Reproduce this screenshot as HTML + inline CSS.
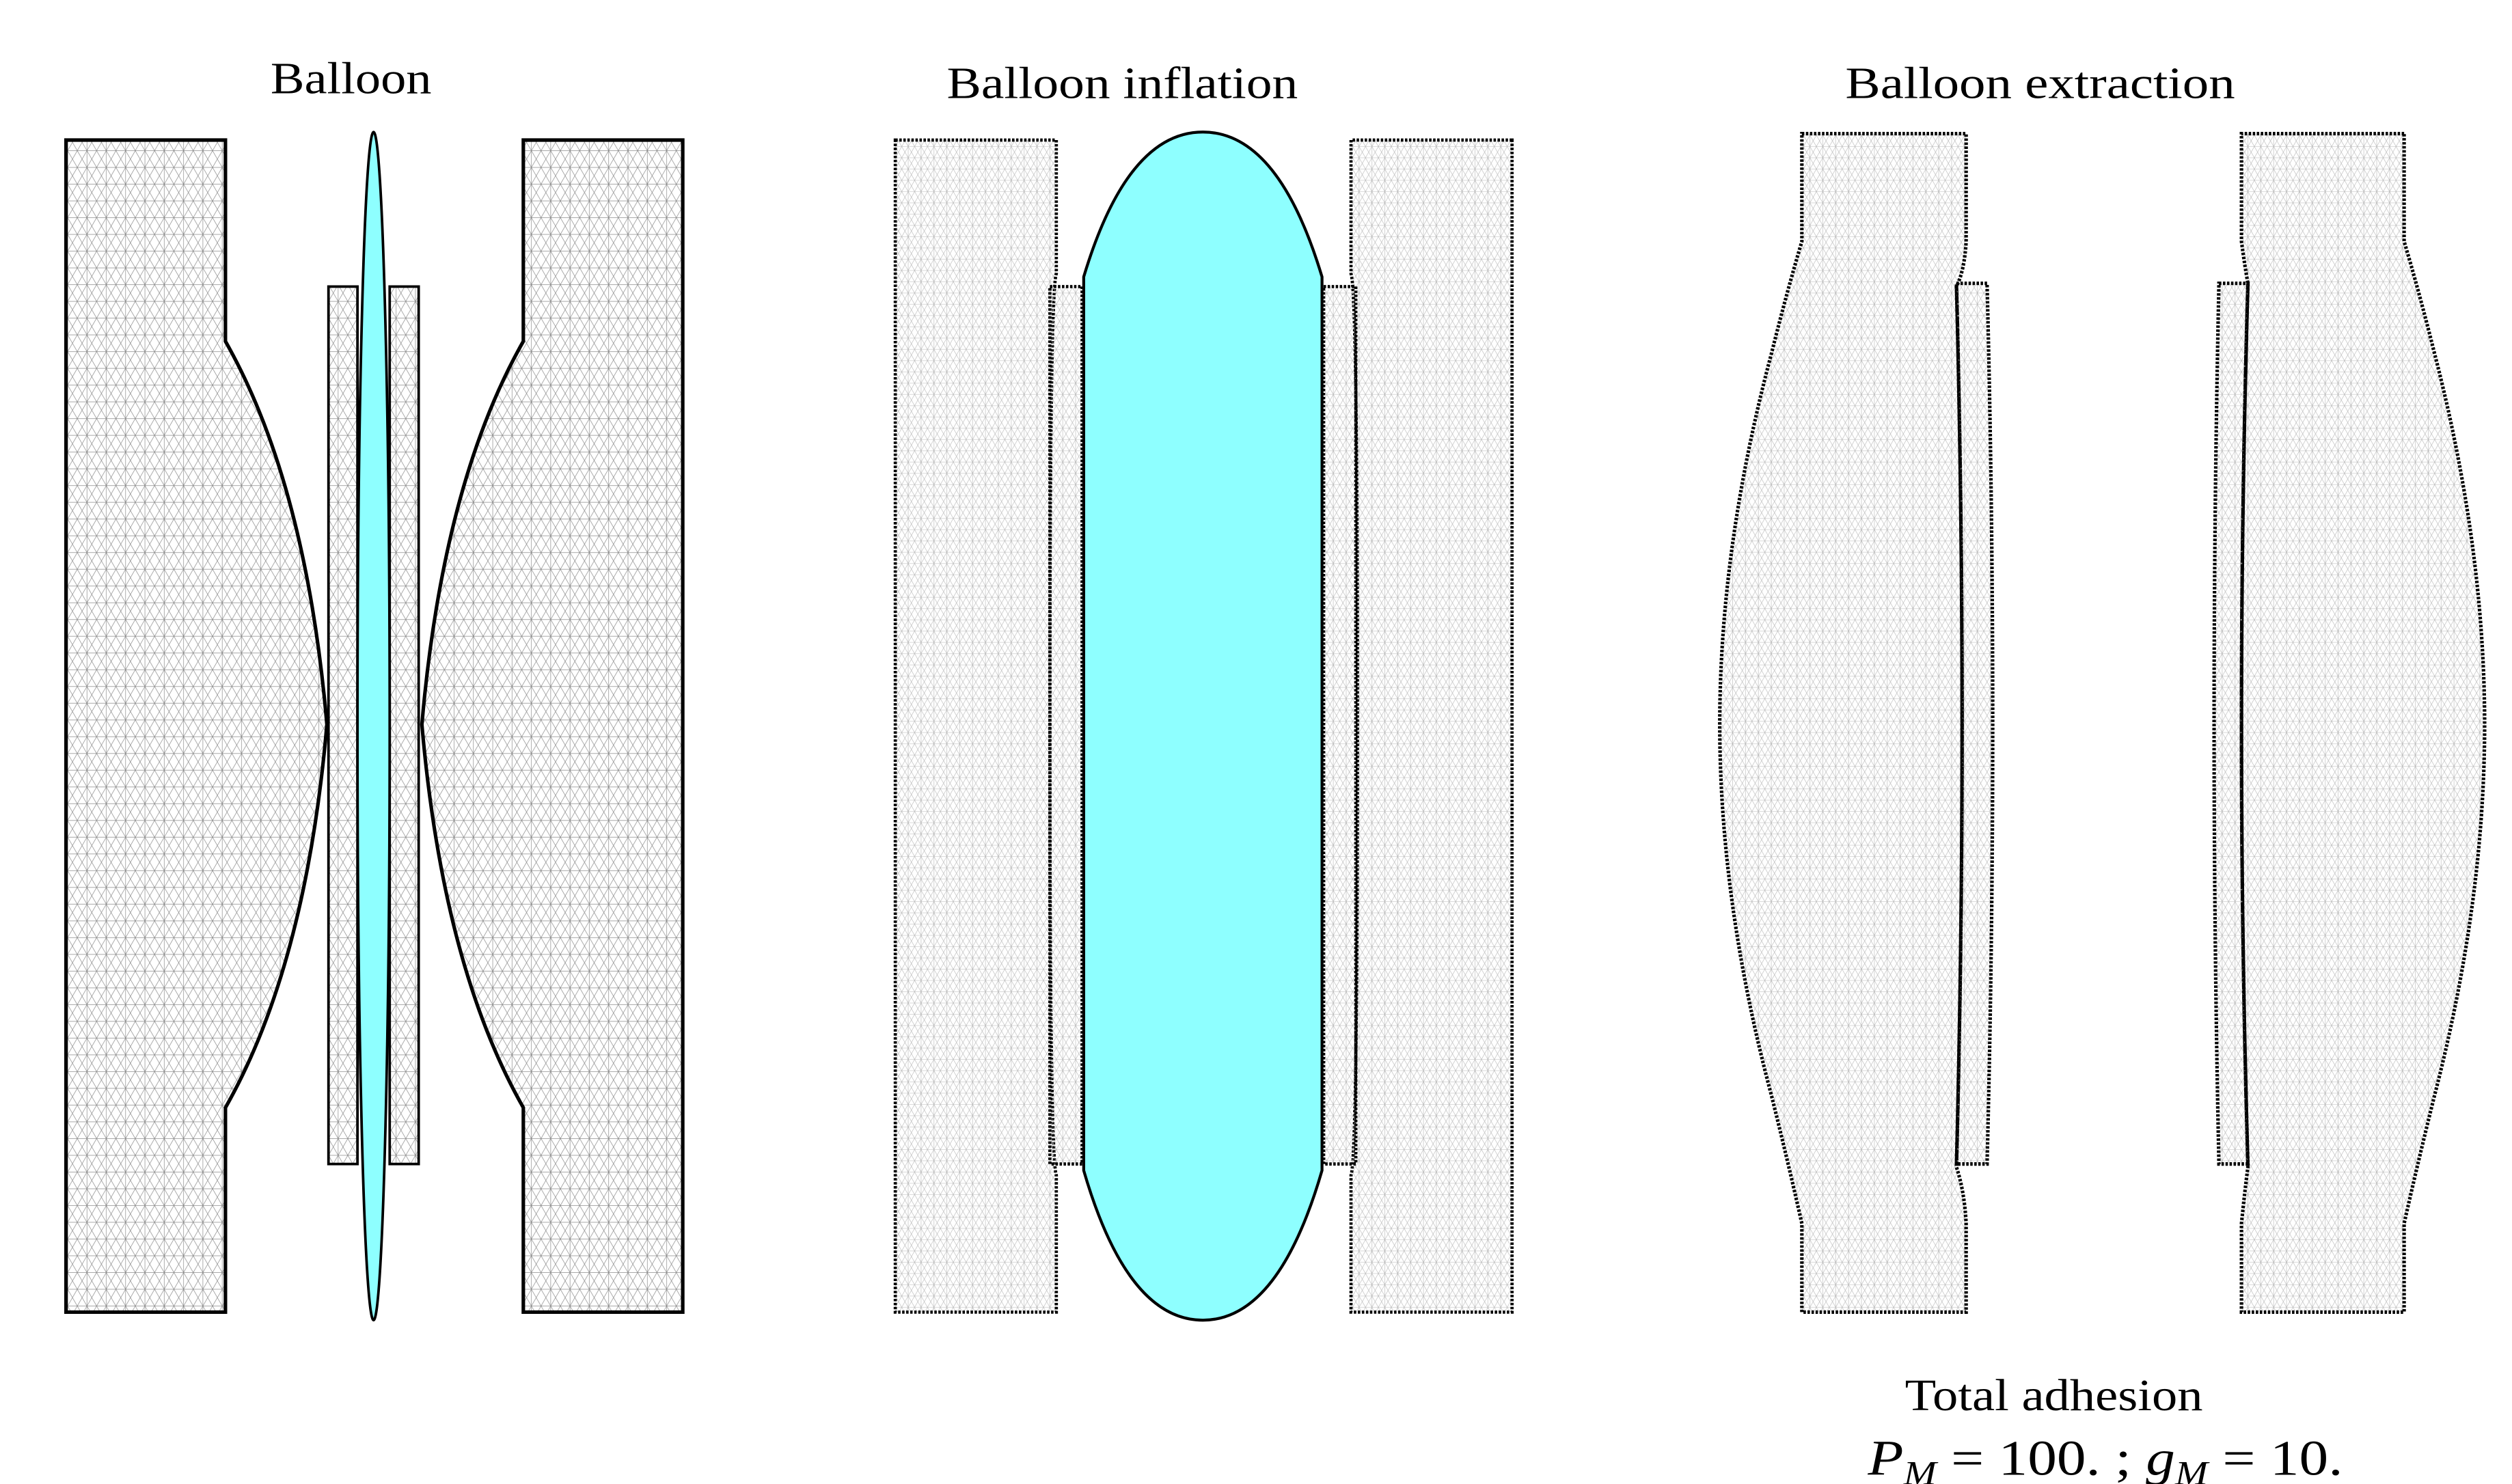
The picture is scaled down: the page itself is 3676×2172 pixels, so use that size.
<!DOCTYPE html>
<html><head><meta charset="utf-8"><style>
html,body{margin:0;padding:0;background:#fff;}
svg{display:block;}
text{font-family:"Liberation Serif",serif;fill:#000;}
</style></head><body>
<svg width="3676" height="2172" viewBox="0 0 1560 921.76" preserveAspectRatio="none" xmlns="http://www.w3.org/2000/svg">
<defs>
<pattern id="m1" width="12" height="10.4" patternUnits="userSpaceOnUse">
<path d="M0 0H12M0 10.4H12M0 0L6 10.4L12 0M0 10.4L6 0L12 10.4M6 0V10.4" stroke="#8a8a8a" stroke-width="0.3" fill="none"/>
</pattern>
<pattern id="m2" width="8" height="7" patternUnits="userSpaceOnUse">
<path d="M0 0H8M0 7H8M0 0L4 7L8 0M0 7L4 0L8 7M4 0V7" stroke="#b5b5b5" stroke-width="0.25" fill="none"/>
</pattern>
</defs>

<!-- Titles -->
<text x="168" y="58" font-size="28" textLength="100" lengthAdjust="spacingAndGlyphs">Balloon</text>
<text x="588" y="61" font-size="28" textLength="218" lengthAdjust="spacingAndGlyphs">Balloon inflation</text>
<text x="1146" y="61" font-size="28" textLength="242" lengthAdjust="spacingAndGlyphs">Balloon extraction</text>
<text x="1183" y="876" font-size="28" textLength="185" lengthAdjust="spacingAndGlyphs">Total adhesion</text>
<text x="1160" y="916" font-size="31" textLength="295" lengthAdjust="spacingAndGlyphs"><tspan font-style="italic">P</tspan><tspan font-style="italic" font-size="21" dy="6">M</tspan><tspan dy="-6"> = 100. ;  </tspan><tspan font-style="italic">g</tspan><tspan font-style="italic" font-size="21" dy="6">M</tspan><tspan dy="-6"> = 10.</tspan></text>

<!-- Panel 1 -->
<g stroke="#000" stroke-width="2.2" fill="url(#m1)">
<path d="M41 87H140V212Q190 300 203 450Q190 600 140 688V815H41Z"/>
<path d="M424 87H325V212Q275 300 262 450Q275 600 325 688V815H424Z"/>
<rect x="204" y="178" width="18" height="545" stroke-width="1.6"/>
<rect x="242" y="178" width="18" height="545" stroke-width="1.6"/>
</g>
<ellipse cx="232" cy="451" rx="10" ry="369" fill="#8effff" stroke="#000" stroke-width="1.6"/>

<!-- Panel 2 -->
<g stroke="#000" stroke-width="2" stroke-dasharray="1.5 1" fill="url(#m2)">
<path d="M556 87H656V170Q652 180 652 450Q652 720 656 730V815H556Z"/>
<path d="M939 87H839V170Q843 180 843 450Q843 720 839 730V815H939Z"/>
<rect x="652" y="178" width="20" height="545"/>
<rect x="822" y="178" width="20" height="545"/>
</g>
<path d="M673 172Q700 82 747 82Q794 82 821 172V727Q794 820 747 820Q700 820 673 727Z" fill="#8effff" stroke="#000" stroke-width="1.8"/>

<!-- Panel 3 -->
<g stroke="#000" stroke-width="2.2" stroke-dasharray="1.5 1" fill="url(#m2)">
<path d="M1119 83H1221V150Q1220 168 1215 178Q1222 450 1215 725Q1220 740 1221 760V815H1119V760Q1110 720 1100 680Q1068 560 1068 450Q1068 340 1100 220Q1110 180 1119 150Z"/>
<path d="M1215 176H1234Q1241 450 1234 723H1215Q1222 450 1215 176Z"/>
<path d="M1493 83H1392V150Q1394 165 1396 176Q1388 450 1396 725Q1394 740 1392 760V815H1493V760Q1502 720 1512 680Q1543 560 1543 450Q1543 340 1512 220Q1502 180 1493 150Z"/>
<path d="M1378 176H1396Q1388 450 1396 723H1378Q1372 450 1378 176Z"/>
</g>
</svg>
</body></html>
